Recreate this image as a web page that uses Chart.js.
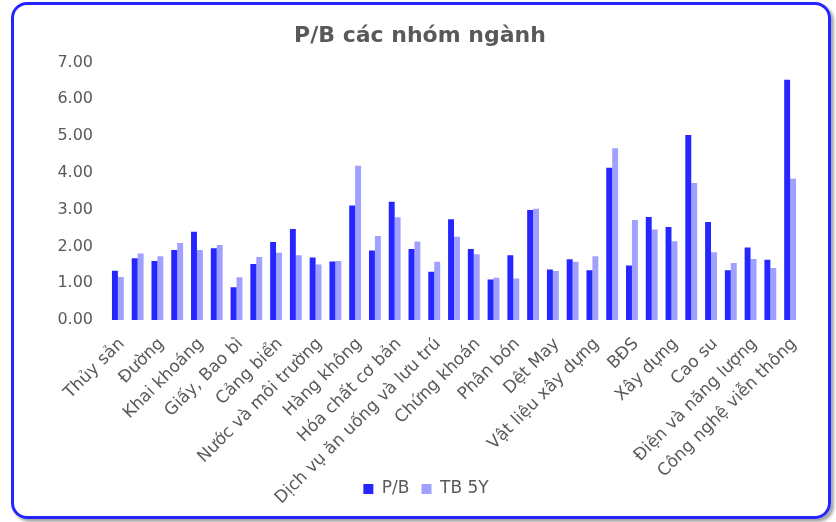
<!DOCTYPE html>
<html>
<head>
<meta charset="utf-8">
<script src="https://cdn.jsdelivr.net/npm/chart.js@4"></script>
<style>
  html, body { margin: 0; padding: 0; background: #fff; }
  #wrap { position: relative; width: 836px; height: 522px; }
  #frame {
    position: absolute; left: 11px; top: 2px; width: 820px; height: 517px;
    box-sizing: border-box; border: 3px solid #2424ff; border-radius: 16px;
    box-shadow: 3px 3px 3px rgba(0,0,0,0.35);
  }
  canvas { position: absolute; left: 0; top: 0; }
</style>
</head>
<body>
<div id="wrap">
  <div id="frame"></div>
  <canvas id="pbChart" width="836" height="522"></canvas>
</div>
<script>
// only every other sector name is printed on the axis
const categories = [
  "Thủy sản", "", "Đường", "", "Khai khoáng", "", "Giấy, Bao bì", "", "Cảng biển", "",
  "Nước và môi trường", "", "Hàng không", "", "Hóa chất cơ bản", "", "Dịch vụ ăn uống và lưu trú", "",
  "Chứng khoán", "", "Phân bón", "", "Dệt May", "", "Vật liệu xây dựng", "", "BĐS", "",
  "Xây dựng", "", "Cao su", "", "Điện và năng lượng", "", "Công nghệ viễn thông"
];
const pbValues = [
  1.34, 1.68, 1.60, 1.90, 2.40, 1.95, 0.89, 1.52, 2.12, 2.47,
  1.70, 1.59, 3.11, 1.89, 3.21, 1.93, 1.31, 2.74, 1.93, 1.10,
  1.76, 2.99, 1.37, 1.65, 1.35, 4.14, 1.48, 2.80, 2.53, 5.03,
  2.66, 1.35, 1.97, 1.64, 6.53
];
const avg5yValues = [
  1.17, 1.81, 1.73, 2.09, 1.90, 2.04, 1.16, 1.71, 1.83, 1.76,
  1.51, 1.60, 4.19, 2.28, 2.79, 2.13, 1.58, 2.26, 1.79, 1.15,
  1.13, 3.02, 1.33, 1.58, 1.73, 4.67, 2.72, 2.46, 2.14, 3.72,
  1.84, 1.55, 1.66, 1.41, 3.84
];
const yTicks = [0, 1, 2, 3, 4, 5, 6, 7];

const textColor = "#595959";
const font = "'DejaVu Sans', Verdana, sans-serif";

// legend sits beside the long rotated labels, title is centred on the frame
const placeBoxes = {
  id: "placeBoxes",
  afterLayout(chart) {
    chart.scales.x.bottom = chart.height; // don't clip long rotated labels
    const lg = chart.legend;
    const dy = 488 - (lg.top + lg.height / 2);
    lg.top += dy; lg.bottom += dy;
    lg.left += 26; lg.right += 26;
    chart.titleBlock.left = 4;
    chart.titleBlock.right = 836;
  }
};

const ctx = document.getElementById("pbChart").getContext("2d");
const chart = new Chart(ctx, {
  type: "bar",
  data: {
    labels: categories,
    datasets: [
      { label: "P/B", data: pbValues, backgroundColor: "#2626ff", categoryPercentage: 0.6, barPercentage: 1 },
      { label: "TB 5Y", data: avg5yValues, backgroundColor: "#a0a0ff", categoryPercentage: 0.6, barPercentage: 1 }
    ]
  },
  options: {
    responsive: false,
    animation: false,
    layout: { padding: { left: 0, right: 36, top: 0, bottom: 0 } },
    plugins: {
      title: {
        display: true, text: "P/B các nhóm ngành", color: textColor,
        font: { family: font, size: 22, weight: "bold" },
        padding: { top: 23, bottom: 13 }
      },
      legend: {
        position: "bottom",
        labels: { color: textColor, font: { family: font, size: 17 }, boxWidth: 10, boxHeight: 10, padding: 12 }
      },
      tooltip: { enabled: false }
    },
    scales: {
      x: {
        grid: { display: false },
        border: { display: false },
        ticks: {
          color: textColor, font: { family: font, size: 17 },
          autoSkip: false, minRotation: 45, maxRotation: 45, padding: 6, labelOffset: 4
        },
        afterFit: s => { s.height = 163; }
      },
      y: {
        min: 0, max: 7,
        grid: { display: false, drawTicks: false },
        border: { display: false },
        afterBuildTicks: s => { s.ticks = yTicks.map(v => ({ value: v })); },
        ticks: {
          color: textColor, font: { family: font, size: 16 }, padding: 15,
          callback: v => v.toFixed(2)
        },
        afterFit: s => { s.width = 108; }
      }
    }
  },
  plugins: [placeBoxes]
});
</script>
</body>
</html>
